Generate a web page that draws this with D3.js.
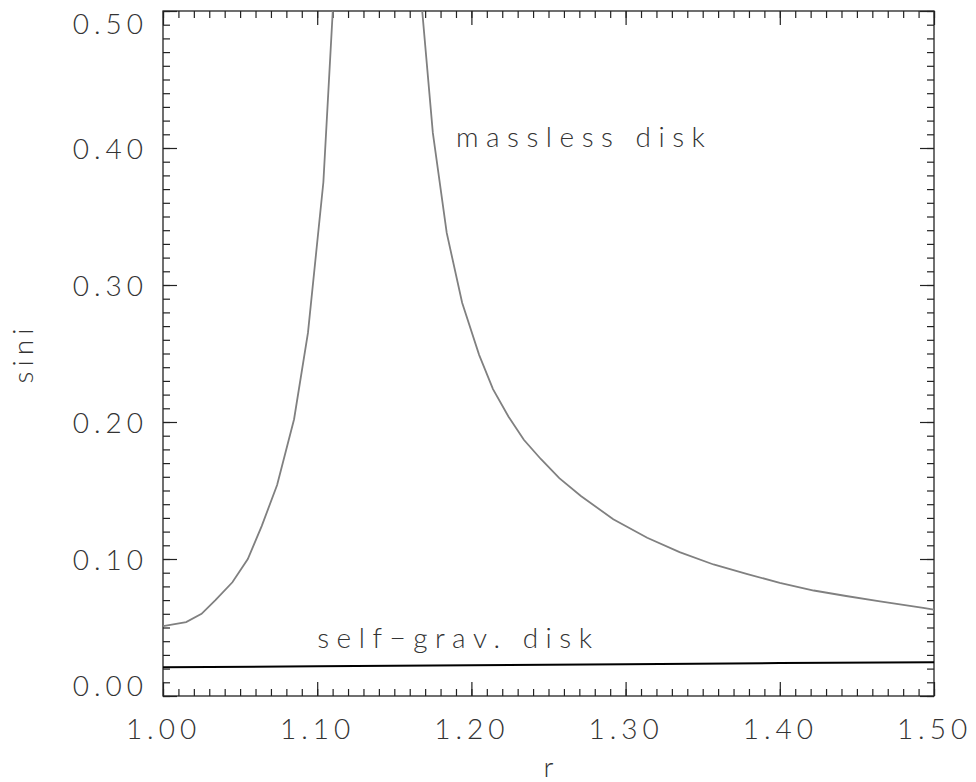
<!DOCTYPE html>
<html>
  <head>
    <meta charset="utf-8">
    <title>sini vs r</title>
    <style>
      body { margin: 0; background-color: white; }
      svg { display: block; }
      text { font-family: "Lato", "DejaVu Sans", sans-serif; font-weight: 300; fill: #333; }
    </style>
  </head>
  <body>
    <div id="chart"></div>

    <script src="https://d3js.org/d3.v7.min.js"></script>
    <script>
    // values
    var masslessR = [1.000, 1.015, 1.025, 1.034, 1.045, 1.055, 1.064, 1.074, 1.085, 1.094, 1.104, 1.114,
                     1.165, 1.175, 1.184, 1.194, 1.205, 1.214, 1.224, 1.234, 1.245, 1.257, 1.271, 1.292,
                     1.314, 1.335, 1.357, 1.379, 1.400, 1.422, 1.443, 1.465, 1.493, 1.500];
    var masslessSini = [0.051, 0.054, 0.060, 0.070, 0.083, 0.100, 0.124, 0.154, 0.202, 0.265, 0.375, 0.580,
                        0.540, 0.411, 0.338, 0.287, 0.249, 0.224, 0.204, 0.187, 0.173, 0.159, 0.146, 0.129,
                        0.1155, 0.105, 0.096, 0.089, 0.0826, 0.077, 0.073, 0.069, 0.0644, 0.063];
    var selfGravR = [1.0, 1.1, 1.2, 1.3, 1.4, 1.5];
    var selfGravSini = [0.0210, 0.0217, 0.0225, 0.0232, 0.0240, 0.0247];

    var xMajor = [1.00, 1.10, 1.20, 1.30, 1.40, 1.50];
    var yMajor = [0.00, 0.10, 0.20, 0.30, 0.40, 0.50];
    var curveLabels = [
      {text: "massless disk", r: 1.190, s: 0.401},
      {text: "self\u2212grav. disk", r: 1.100, s: 0.035}
    ];

    var width = 976;
    var height = 782;
    var margin = {top: 11, right: 42, bottom: 86, left: 163};
    var w = width - margin.left - margin.right;
    var h = height - margin.top - margin.bottom;

    var svg = d3.select("#chart").append("svg")
      .attr("width", width)
      .attr("height", height);

    var g = svg.append("g")
      .attr("transform", "translate(" + margin.left + "," + margin.top + ")");

    var x = d3.scaleLinear().domain([1.0, 1.5]).range([0, w]);
    var y = d3.scaleLinear().domain([0, 0.5]).range([h, 0]);

    var xMinor = d3.range(1.0, 1.5001, 0.01).map(function(d) { return +d.toFixed(2); });
    var yMinor = d3.range(0, 0.5001, 0.01).map(function(d) { return +d.toFixed(2); });

    g.append("clipPath").attr("id", "clip")
      .append("rect").attr("width", w).attr("height", h);

    var fmt = d3.format(".2f");

    // minor ticks on all four sides
    g.append("g").attr("class", "minor").attr("transform", "translate(0," + h + ")")
      .call(d3.axisBottom(x).tickValues(xMinor).tickSizeInner(-7).tickSizeOuter(0).tickFormat(""));
    g.append("g").attr("class", "minor")
      .call(d3.axisTop(x).tickValues(xMinor).tickSizeInner(-7).tickSizeOuter(0).tickFormat(""));
    g.append("g").attr("class", "minor")
      .call(d3.axisLeft(y).tickValues(yMinor).tickSizeInner(-7).tickSizeOuter(0).tickFormat(""));
    g.append("g").attr("class", "minor").attr("transform", "translate(" + w + ",0)")
      .call(d3.axisRight(y).tickValues(yMinor).tickSizeInner(-7).tickSizeOuter(0).tickFormat(""));

    // major ticks, labels on bottom and left
    var xAxis = g.append("g").attr("transform", "translate(0," + h + ")")
      .call(d3.axisBottom(x).tickValues(xMajor).tickSizeInner(-14).tickSizeOuter(0).tickPadding(23).tickFormat(fmt));
    g.append("g")
      .call(d3.axisTop(x).tickValues(xMajor).tickSizeInner(-14).tickSizeOuter(0).tickFormat(""));
    var yAxis = g.append("g")
      .call(d3.axisLeft(y).tickValues(yMajor).tickSizeInner(-14).tickSizeOuter(0).tickPadding(15).tickFormat(fmt));
    g.append("g").attr("transform", "translate(" + w + ",0)")
      .call(d3.axisRight(y).tickValues(yMajor).tickSizeInner(-14).tickSizeOuter(0).tickFormat(""));

    g.selectAll(".domain").remove();
    g.selectAll(".tick line").attr("stroke", "#222").attr("stroke-width", 1.2);

    xAxis.selectAll("text")
      .attr("font-family", null).attr("font-size", 28).attr("fill", null)
      .style("letter-spacing", "5px");
    // the lowest and highest y labels are kept inside the frame
    yAxis.selectAll("text")
      .attr("font-family", null).attr("font-size", 28).attr("fill", null)
      .style("letter-spacing", "5px")
      .attr("dy", "0.36em")
      .attr("y", function(d) { return Math.max(12, Math.min(h - 11, y(d))) - y(d); });

    // frame
    g.append("rect")
      .attr("width", w).attr("height", h)
      .attr("fill", "none").attr("stroke", "#222").attr("stroke-width", 1.3);

    var plot = g.append("g").attr("clip-path", "url(#clip)");

    var line = d3.line()
      .x(function(d) { return x(d[0]); })
      .y(function(d) { return y(d[1]); });

    plot.append("path")
      .datum(d3.zip(masslessR, masslessSini))
      .attr("d", line)
      .attr("fill", "none")
      .attr("stroke", "#808080")
      .attr("stroke-width", 1.8);

    plot.append("path")
      .datum(d3.zip(selfGravR, selfGravSini))
      .attr("d", line)
      .attr("fill", "none")
      .attr("stroke", "#000")
      .attr("stroke-width", 2);

    g.selectAll(".curve-label")
      .data(curveLabels)
      .enter().append("text")
      .attr("class", "curve-label")
      .attr("x", function(d) { return x(d.r); })
      .attr("y", function(d) { return y(d.s); })
      .attr("font-size", 28)
      .style("letter-spacing", "7.5px")
      .text(function(d) { return d.text; });

    // axis titles
    svg.append("text")
      .attr("x", margin.left + w / 2)
      .attr("y", 777)
      .attr("text-anchor", "middle")
      .attr("font-size", 28)
      .text("r");

    svg.append("text")
      .attr("transform", "translate(33," + (margin.top + h / 2) + ") rotate(-90)")
      .attr("text-anchor", "middle")
      .attr("font-size", 28)
      .style("letter-spacing", "5px")
      .text("sini");
    </script>
  </body>
</html>
